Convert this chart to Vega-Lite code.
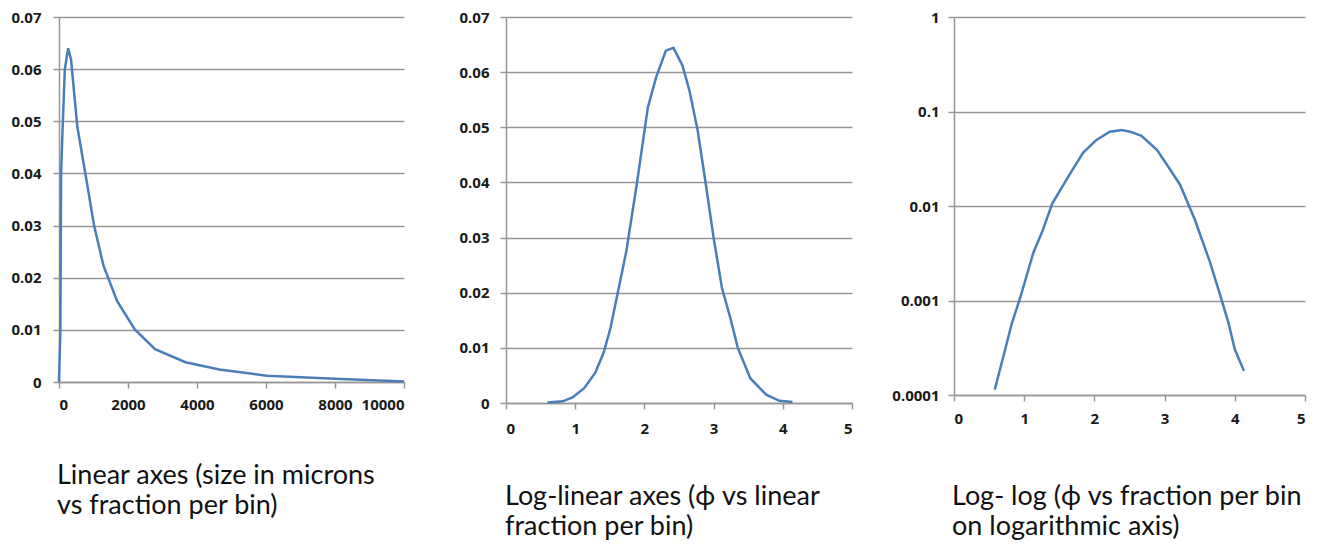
{
  "$schema": "https://vega.github.io/schema/vega-lite/v6.json",
  "background": "white",
  "padding": {"left": 10, "top": 10, "right": 5, "bottom": 0},
  "bounds": "flush",
  "spacing": 102,
  "config": {
    "view": {"stroke": null},
    "axis": {
      "domainColor": "#969696", "gridColor": "#969696", "tickColor": "#969696",
      "domainWidth": 1.5, "gridWidth": 1.5, "tickWidth": 1.5, "tickSize": 6,
      "labelFont": "Open Sans", "labelFontSize": 15, "labelFontWeight": "bold", "labelColor": "#1a1a1a",
      "title": null
    },
    "title": {"font": "Lato", "fontSize": 27, "fontWeight": "normal", "color": "#111111", "lineHeight": 30, "orient": "bottom", "anchor": "start", "frame": "group"}
  },
  "datasets": {
    "linear": [
      {"size": 0, "fraction": 0},
      {"size": 40, "fraction": 0.010},
      {"size": 60, "fraction": 0.040},
      {"size": 110, "fraction": 0.0497},
      {"size": 170, "fraction": 0.060},
      {"size": 265, "fraction": 0.064},
      {"size": 350, "fraction": 0.0618},
      {"size": 530, "fraction": 0.049},
      {"size": 745, "fraction": 0.0407},
      {"size": 1020, "fraction": 0.0299},
      {"size": 1294, "fraction": 0.0222},
      {"size": 1686, "fraction": 0.0155},
      {"size": 2196, "fraction": 0.0101},
      {"size": 2784, "fraction": 0.0063},
      {"size": 3667, "fraction": 0.0038},
      {"size": 4647, "fraction": 0.0024},
      {"size": 6020, "fraction": 0.0012},
      {"size": 8000, "fraction": 0.0006},
      {"size": 10000, "fraction": 0.0001}
    ],
    "loglinear": [
      {"phi": 0.60, "fraction": 0.0001},
      {"phi": 0.82, "fraction": 0.0003},
      {"phi": 0.96, "fraction": 0.0010},
      {"phi": 1.13, "fraction": 0.0027},
      {"phi": 1.29, "fraction": 0.0055},
      {"phi": 1.41, "fraction": 0.0091},
      {"phi": 1.51, "fraction": 0.0136},
      {"phi": 1.62, "fraction": 0.0203},
      {"phi": 1.74, "fraction": 0.0276},
      {"phi": 1.89, "fraction": 0.0397},
      {"phi": 2.05, "fraction": 0.0536},
      {"phi": 2.17, "fraction": 0.0591},
      {"phi": 2.31, "fraction": 0.0639},
      {"phi": 2.42, "fraction": 0.0644},
      {"phi": 2.55, "fraction": 0.0612},
      {"phi": 2.65, "fraction": 0.0567},
      {"phi": 2.77, "fraction": 0.0494},
      {"phi": 2.88, "fraction": 0.0403},
      {"phi": 3.00, "fraction": 0.0300},
      {"phi": 3.12, "fraction": 0.0209},
      {"phi": 3.24, "fraction": 0.0155},
      {"phi": 3.35, "fraction": 0.0100},
      {"phi": 3.53, "fraction": 0.0045},
      {"phi": 3.76, "fraction": 0.0015},
      {"phi": 3.95, "fraction": 0.0004},
      {"phi": 4.14, "fraction": 0.0002}
    ],
    "loglog": [
      {"phi": 0.58, "fraction": 0.000114},
      {"phi": 0.73, "fraction": 0.000305},
      {"phi": 0.82, "fraction": 0.00056},
      {"phi": 0.95, "fraction": 0.00111},
      {"phi": 1.13, "fraction": 0.0032},
      {"phi": 1.25, "fraction": 0.0052},
      {"phi": 1.40, "fraction": 0.0106},
      {"phi": 1.63, "fraction": 0.0206},
      {"phi": 1.84, "fraction": 0.0368},
      {"phi": 2.03, "fraction": 0.050},
      {"phi": 2.22, "fraction": 0.0612},
      {"phi": 2.39, "fraction": 0.0638},
      {"phi": 2.51, "fraction": 0.0612},
      {"phi": 2.67, "fraction": 0.0552},
      {"phi": 2.89, "fraction": 0.0393},
      {"phi": 3.05, "fraction": 0.0262},
      {"phi": 3.22, "fraction": 0.0168},
      {"phi": 3.43, "fraction": 0.0072},
      {"phi": 3.65, "fraction": 0.0025},
      {"phi": 3.81, "fraction": 0.00103},
      {"phi": 3.91, "fraction": 0.00058},
      {"phi": 4.00, "fraction": 0.000305},
      {"phi": 4.13, "fraction": 0.00018}
    ]
  },
  "hconcat": [
    {
      "width": 345, "height": 365,
      "data": {"name": "linear"},
      "title": {"text": ["Linear axes (size in microns", "vs fraction per bin)"], "dx": -2, "offset": 51},
      "mark": {"type": "line", "color": "#4a7ebb", "strokeWidth": 2.5},
      "encoding": {
        "x": {"field": "size", "type": "quantitative", "scale": {"domain": [0, 10000], "nice": false},
          "axis": {"values": [0, 2000, 4000, 6000, 8000, 10000], "format": "d", "grid": false, "labelPadding": 9}},
        "y": {"field": "fraction", "type": "quantitative", "scale": {"domain": [0, 0.07], "nice": false},
          "axis": {"values": [0, 0.01, 0.02, 0.03, 0.04, 0.05, 0.06, 0.07], "format": "~g", "grid": true, "labelPadding": 12}}
      }
    },
    {
      "width": 346, "height": 386,
      "data": {"name": "loglinear"},
      "title": {"text": ["Log-linear axes (ϕ vs linear", "fraction per bin)"], "dx": -1, "offset": 48},
      "mark": {"type": "line", "color": "#4a7ebb", "strokeWidth": 2.5},
      "encoding": {
        "x": {"field": "phi", "type": "quantitative", "scale": {"domain": [0, 5], "nice": false},
          "axis": {"values": [0, 1, 2, 3, 4, 5], "format": "d", "grid": false, "labelPadding": 12}},
        "y": {"field": "fraction", "type": "quantitative", "scale": {"domain": [0, 0.07], "nice": false},
          "axis": {"values": [0, 0.01, 0.02, 0.03, 0.04, 0.05, 0.06, 0.07], "format": "~g", "grid": true, "labelPadding": 11}}
      }
    },
    {
      "width": 351, "height": 378,
      "data": {"name": "loglog"},
      "title": {"text": ["Log- log (ϕ vs fraction per bin", "on logarithmic axis)"], "dx": -2, "offset": 58},
      "mark": {"type": "line", "color": "#4a7ebb", "strokeWidth": 2.5},
      "encoding": {
        "x": {"field": "phi", "type": "quantitative", "scale": {"domain": [0, 5], "nice": false},
          "axis": {"values": [0, 1, 2, 3, 4, 5], "format": "d", "grid": false, "labelPadding": 10}},
        "y": {"field": "fraction", "type": "quantitative", "scale": {"type": "log", "domain": [0.0001, 1], "nice": false},
          "axis": {"values": [0.0001, 0.001, 0.01, 0.1, 1], "format": "~g", "grid": true, "labelPadding": 9}}
      }
    }
  ]
}
